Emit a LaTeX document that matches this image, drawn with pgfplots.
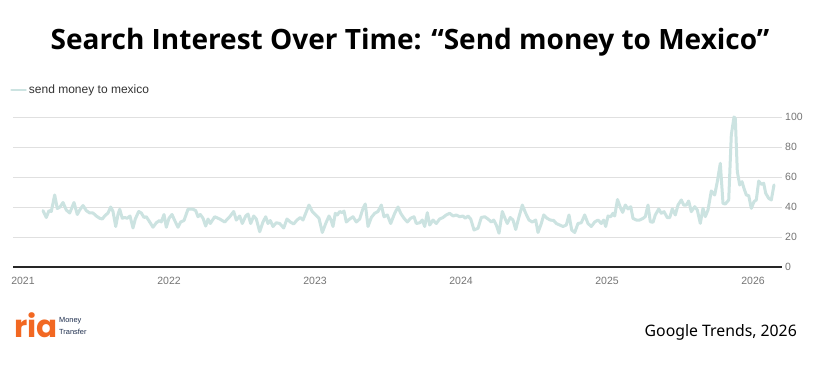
\documentclass[border=0pt]{standalone}
\usepackage{pgfplots}
\pgfplotsset{compat=1.18}
\usepackage{pgfplotstable}
\usepackage{fontspec}
\setmainfont{Noto Sans}
\newfontfamily\rob{Liberation Sans}
\newfontfamily\pop{Poppins}
\IfFontExistsTF{Open Sans Bold}{\newfontfamily\titlefont{Open Sans Bold}}{%
  \IfFontExistsTF{Noto Sans Bold}{\newfontfamily\titlefont{Noto Sans Bold}}{%
    \newfontfamily\titlefont{Liberation Sans Bold}}}
\definecolor{lineteal}{RGB}{204,227,225}
\definecolor{gridgray}{RGB}{224,224,224}
\definecolor{tickgray}{RGB}{117,117,117}
\definecolor{riaorange}{RGB}{242,104,34}
\definecolor{rianavy}{RGB}{27,43,75}
% x column: horizontal position in picture units (px); converted to years below
\pgfplotstableread{
px val
43.0 37.6
46.3 33
49.0 37.6
51.3 37
54.7 48
57.3 39
60.0 40
63.0 43
66.3 38
69.7 36
74.0 43
77.3 35
79.7 38
83.0 41
86.3 37.6
89.7 36
93.0 36
96.3 34
99.7 32.5
102.3 32
104.7 34
108.0 36
110.7 40
113.0 37
115.7 27
118.0 35
119.7 38.5
122.3 32.5
124.7 33
127.3 32.5
130.0 34
133.0 26
135.3 32
138.7 37
141.3 36
144.0 33
146.3 33.5
149.7 30
153.0 26.5
156.3 29.5
159.7 31
161.3 30
164.0 35
166.3 26.5
169.0 32.5
172.0 35
174.7 31
178.0 26.5
180.7 30
184.0 31
188.0 38.5
193.0 38.5
195.7 37.6
198.0 33.5
200.3 35
203.0 32.5
205.7 27.3
208.0 32
210.3 29
214.7 33.5
219.7 32
224.7 30
229.7 33.5
233.7 37
236.3 31.3
239.7 34
242.3 29
245.7 34
248.0 35.3
250.7 29
253.7 34
256.3 32
259.7 23.5
263.0 30
265.7 33.5
268.0 29
270.3 31
273.0 27
276.3 29.5
279.7 29
283.7 26
287.0 32
290.3 30
293.7 28.7
297.0 31.3
300.3 33
303.0 31.3
305.7 35.8
309.0 41.3
312.3 37
315.7 34.7
319.0 32.5
322.3 23
325.7 29
329.0 34
331.0 31.3
333.0 27
335.3 35.8
337.3 34.7
339.7 37
342.0 36.2
344.0 37.3
346.3 30
349.7 32
353.0 33.5
356.3 30
359.7 32
363.0 39
365.3 42
368.0 27
371.3 33
374.7 35.8
378.0 37
381.3 41.3
384.0 33.5
387.3 34.7
390.7 29
394.7 35.8
398.0 40
400.7 35.8
404.0 32.5
407.3 30
410.7 32.5
414.0 33.5
416.3 29
419.7 29.5
422.3 31.3
424.7 27
427.3 36.2
429.7 28
433.0 31.3
436.3 29
439.7 32
443.0 33
446.3 34.7
449.7 35.8
453.0 34
456.3 34.7
459.7 33.5
463.0 34
465.3 32.5
468.0 34
470.7 32
474.0 24.7
478.0 25.8
481.3 33
484.7 33.5
488.0 32
491.3 30
493.7 31.3
496.3 28
499.0 22.5
502.3 37
505.0 32.5
507.3 29
510.3 33
513.0 31.3
515.7 25
519.0 33.5
522.3 41.3
525.7 35.8
529.0 31.3
532.3 30
535.7 31.3
538.0 23
541.3 29
543.7 34.7
547.0 32.5
550.3 31.3
553.7 31
556.3 29
559.7 28
563.0 27
566.3 28
569.0 34.7
571.7 24.7
574.7 23
578.0 29
581.3 29.5
584.7 34.7
588.0 29
591.3 27
594.7 30
598.0 31.3
601.3 29
603.7 31.3
605.7 27
608.0 34
610.7 33.5
613.0 35.8
614.7 34
617.5 45
620.7 39.1
622.7 36.4
625.3 41.3
628.0 38.7
630.7 40.2
633.0 32.4
636.3 31.3
639.7 31.3
643.0 32.4
645.3 33.6
648.0 41.3
650.3 30.2
653.0 29.8
655.3 34.7
658.7 38.7
661.3 35.8
664.0 36.9
667.3 32.9
669.7 32.9
672.3 38.7
675.3 34.7
678.0 41.3
681.3 44.7
683.7 41.3
686.3 41.3
688.7 44
691.3 36.9
694.7 40.2
697.3 38
700.3 29.1
703.0 39.1
705.3 33.6
708.0 38
711.3 50.7
714.7 48
717.3 56.9
720.3 69.1
723.0 42.4
725.3 42
728.7 44.7
731.3 88
734.0 100
735.3 99
737.3 63.6
739.7 54.7
742.0 56.9
744.0 52.4
746.3 48
748.7 47.6
751.3 39.1
754.0 43.6
756.3 44.7
758.7 57.3
761.3 55.1
763.7 55.8
765.7 49.1
768.7 45.8
771.3 44.7
774.0 54.7
}\datatable
\begin{document}
\begin{tikzpicture}
\fill[white] (0,0) rectangle (820bp,367bp);
\path[use as bounding box] (0,0) rectangle (820bp,367bp);
\begin{axis}[
  at={(13bp,100bp)}, anchor=south west,
  scale only axis, width=769bp, height=150bp,
  xmin=2020.9315, xmax=2026.1986, ymin=0, ymax=100,
  clip=false,
  axis line style={draw=none},
  xtick={2021,2022,2023,2024,2025,2026},
  xticklabels={2021,2022,2023,2024,2025,2026},
  ytick={0,20,40,60,80,100},
  yticklabel pos=right,
  major tick length=0,
  ymajorgrids, major grid style={draw=gridgray, line width=0.9bp},
  /pgf/number format/assume math mode=true,
  tick label style={font=\rob\fontsize{10.5bp}{12bp}\selectfont, text=tickgray},
  xticklabel style={yshift=-7bp},
  yticklabel style={anchor=west, inner sep=0pt, xshift=3bp},
  legend style={at={(axis description cs:-0.0039,1.18)}, anchor=west, draw=none, fill=none,
    inner sep=0pt, font=\rob\fontsize{12bp}{14bp}\selectfont, text=black!80},
  legend image code/.code={\draw[#1, line width=2.8bp] (0bp,0bp) -- (14bp,0bp);},
  legend cell align=left,
]
\draw[black!85, line width=1.3bp] (rel axis cs:0,0) -- (rel axis cs:1,0);
\addplot[lineteal, line width=3bp, line join=round, line cap=round]
  table[x expr={2021+(\thisrow{px}-23)/146}, y=val]{\datatable};
\addlegendentry{send money to mexico}
\end{axis}
\node[anchor=base, font=\titlefont\fontsize{28bp}{32bp}\selectfont] at (410bp,317bp)
  {Search Interest Over Time: “Send money to Mexico”};
\node[anchor=base east, inner sep=0pt, font=\fontsize{15.8bp}{18bp}\selectfont] at (797bp,31bp)
  {Google Trends, 2026};
\node[anchor=base west, inner sep=0pt, text=riaorange, font=\pop\bfseries\fontsize{31bp}{34bp}\selectfont] at (14bp,30bp) {ria};
\node[anchor=base west, inner sep=0pt, text=rianavy, font=\rob\fontsize{7.4bp}{8bp}\selectfont] at (59bp,44bp) {Money};
\node[anchor=base west, inner sep=0pt, text=rianavy, font=\rob\fontsize{7.4bp}{8bp}\selectfont] at (59bp,32.5bp) {Transfer};
\end{tikzpicture}
\end{document}
